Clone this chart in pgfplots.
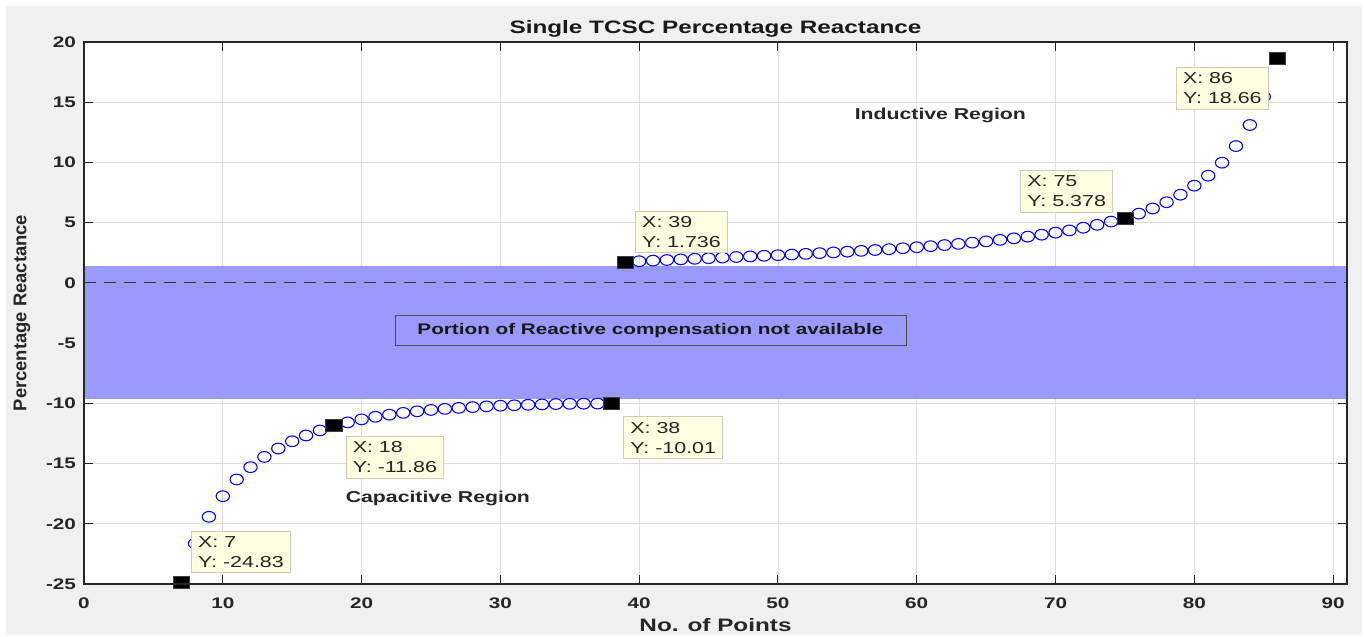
\documentclass[border=0pt]{standalone}
\usepackage{fontspec}
\setmainfont{Liberation Sans}[FakeStretch=1.35]
\newfontfamily\ylabfont{Liberation Sans}
\usepackage{pgfplots}
\pgfplotsset{compat=1.18}
\usetikzlibrary{backgrounds}
\definecolor{bandblue}{RGB}{153,153,255}
\definecolor{figgray}{RGB}{240,240,240}
\definecolor{tipfill}{RGB}{255,255,225}
\definecolor{tipedge}{RGB}{205,205,185}
\definecolor{gridgray}{RGB}{222,222,222}
\definecolor{axgray}{RGB}{38,38,38}

\begin{document}
\begin{tikzpicture}[
  tip/.style={draw=tipedge, fill=tipfill, align=left, inner xsep=5pt, inner ysep=4pt,
    text=black!85, font=\fontsize{11.9}{15}\selectfont},
  reg/.style={font=\fontsize{11.8}{14}\selectfont\bfseries, text=black!85},
]
\begin{axis}[
  scale only axis, width=947.25pt, height=406.5pt,
  xmin=0, xmax=91, ymin=-25, ymax=20,
  xtick={0,10,...,90}, ytick={-25,-20,...,20},
  grid=major, major grid style={gridgray, line width=0.6pt},
  tick align=inside, major tick length=7pt,
  axis line style={axgray, line width=0.8pt},
  every tick/.style={axgray, line width=0.8pt},
  axis background/.style={fill=white},
  tick label style={font=\fontsize{11.5}{13}\selectfont\bfseries, text=axgray},
  xticklabel style={yshift=-7pt},
  yticklabel style={xshift=-2.5pt},
  /pgf/number format/assume math mode=true,
  every axis title shift=0pt,
  title={Single TCSC Percentage Reactance},
  title style={font=\fontsize{13.5}{16}\selectfont\bfseries, text=black!90,
    at={(axis description cs:0.5,1.0148)}, anchor=base},
  xlabel={No. of Points},
  xlabel style={font=\fontsize{13.5}{16}\selectfont\bfseries, text=axgray,
    at={(axis description cs:0.5,-0.0757)}, anchor=center},
  ylabel={Percentage Reactance},
  ylabel style={font=\ylabfont\fontsize{13.8}{16}\selectfont\bfseries, text=axgray,
    at={(axis description cs:-0.0491,0.5)}, anchor=center},
  clip mode=individual,
]
% band where no compensation is available
\addplot[draw=none, fill=bandblue] coordinates {(0,-9.65) (91,-9.65) (91,1.38) (0,1.38)};
\addplot[black!80, line width=0.7pt, dash pattern=on 9pt off 6pt] coordinates {(0,0) (91,0)};

% capacitive side
\addplot[only marks, mark=o, mark size=4pt, blue, mark options={xscale=1.25, line width=0.8pt}] coordinates {
(7,-24.83) (8,-21.64) (9,-19.42) (10,-17.71) (11,-16.32) (12,-15.30) (13,-14.45) (14,-13.75)
(15,-13.15) (16,-12.67) (17,-12.25) (18,-11.86) (19,-11.58) (20,-11.33) (21,-11.12) (22,-10.94)
(23,-10.79) (24,-10.66) (25,-10.55) (26,-10.46) (27,-10.38) (28,-10.31) (29,-10.25) (30,-10.20)
(31,-10.16) (32,-10.12) (33,-10.09) (34,-10.06) (35,-10.04) (36,-10.03) (37,-10.02) (38,-10.01)
};
% inductive side
\addplot[only marks, mark=o, mark size=4pt, blue, mark options={xscale=1.25, line width=0.8pt}] coordinates {
(39,1.736) (40,1.80) (41,1.85) (42,1.90) (43,1.95) (44,2.00) (45,2.05) (46,2.10) (47,2.15)
(48,2.20) (49,2.25) (50,2.30) (51,2.35) (52,2.41) (53,2.47) (54,2.53) (55,2.59) (56,2.66)
(57,2.73) (58,2.80) (59,2.88) (60,2.96) (61,3.05) (62,3.14) (63,3.24) (64,3.34) (65,3.45)
(66,3.57) (67,3.70) (68,3.84) (69,4.00) (70,4.17) (71,4.36) (72,4.58) (73,4.82) (74,5.09)
(75,5.378) (76,5.75) (77,6.18) (78,6.70) (79,7.32) (80,8.07) (81,8.90) (82,9.98) (83,11.36)
(84,13.11) (85,15.46) (86,18.66)
};
% data tips
\addplot[only marks, mark=square*, mark size=4.5pt, black,
  mark options={xscale=1.35, draw=black!70!tipedge, line width=0.4pt}] coordinates {
(7,-24.83) (18,-11.86) (38,-10.01) (39,1.736) (75,5.378) (86,18.66)
};

\node[tip, anchor=south west] at ([xshift=7.5pt,yshift=6.75pt]axis cs:7,-24.83) {X: 7\\Y: -24.83};
\node[tip, anchor=north west] at ([xshift=9pt,yshift=-7.5pt]axis cs:18,-11.86) {X: 18\\Y: -11.86};
\node[tip, anchor=north west] at ([xshift=9pt,yshift=-9.75pt]axis cs:38,-10.01) {X: 38\\Y: -10.01};
\node[tip, anchor=south west] at ([xshift=7.5pt,yshift=6.75pt]axis cs:39,1.736) {X: 39\\Y: 1.736};
\node[tip, anchor=south east] at ([xshift=-9pt,yshift=4.5pt]axis cs:75,5.378) {X: 75\\Y: 5.378};
\node[tip, anchor=north east] at ([xshift=-6.75pt,yshift=-6.75pt]axis cs:86,18.66) {X: 86\\Y: 18.66};

\node[reg] at (axis cs:61.7,13.94) {Inductive Region};
\node[reg] at (axis cs:25.5,-17.87) {Capacitive Region};
\node[draw=black!70, line width=0.6pt, font=\fontsize{11.5}{14}\selectfont\bfseries, text=black!90,
  minimum width=383.25pt, minimum height=22.5pt, inner sep=0pt]
  at (axis cs:40.81,-3.92) {Portion of Reactive compensation not available};

\draw[axgray, line width=0.8pt] (rel axis cs:0,0) rectangle (rel axis cs:1,1);
\end{axis}
\begin{pgfonlayer}{background}
\fill[white] (-63pt,-38.25pt) rectangle (960.75pt,438pt);
\fill[figgray] (-58.5pt,-38.25pt) rectangle (958.5pt,433.5pt);
\end{pgfonlayer}
\end{tikzpicture}
\end{document}
